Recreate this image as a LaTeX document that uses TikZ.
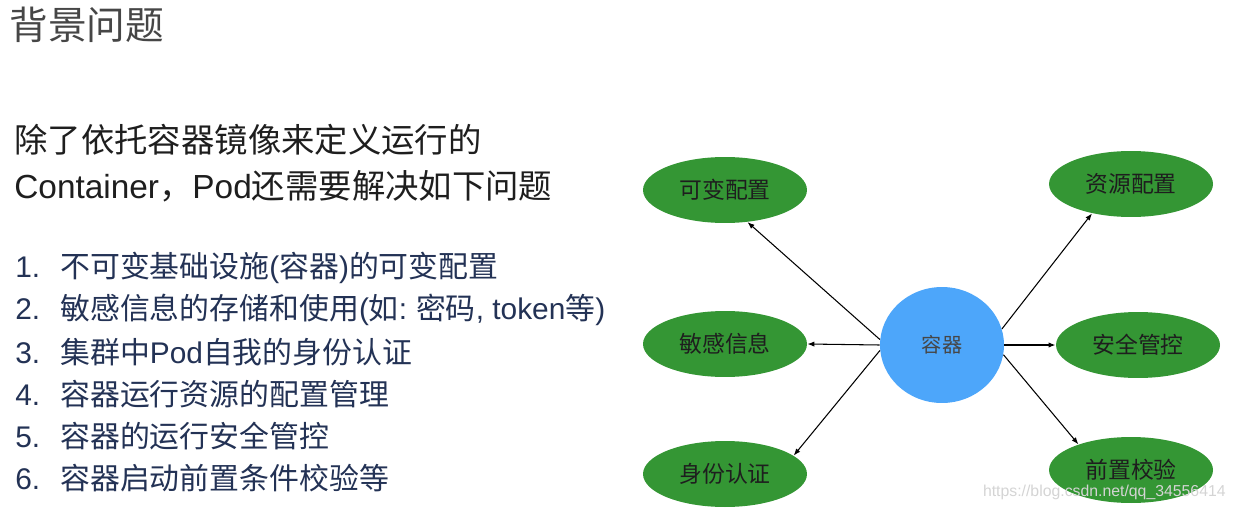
\documentclass[tikz,border=0pt]{standalone}
\usepackage{fontspec}
\setmainfont{Noto Sans CJK SC}
\newfontfamily\lat{Liberation Sans}
\usetikzlibrary{arrows.meta,shapes.geometric}
\definecolor{TitleClr}{RGB}{70,70,70}
\definecolor{TextClr}{RGB}{30,30,30}
\definecolor{ListClr}{RGB}{35,50,85}
\definecolor{LeafClr}{RGB}{52,150,52}
\definecolor{HubClr}{RGB}{77,166,250}
\definecolor{MarkClr}{RGB}{212,212,212}

\tikzset{
  leaf/.style={ellipse,fill=LeafClr,minimum width=3.28cm,minimum height=1.32cm,
    inner sep=0pt,text=TextClr,font=\fontsize{13pt}{15pt}\selectfont},
  hub/.style={ellipse,fill=HubClr,minimum width=2.48cm,minimum height=2.32cm,
    inner sep=0pt,text=TitleClr,font=\fontsize{11.5pt}{13pt}\selectfont},
  link/.style={-{Latex[length=4pt,width=3pt]},line width=0.6pt,color=black},
  line/.style={anchor=west,inner sep=0pt,text=ListClr,font=\fontsize{17pt}{20pt}\selectfont}
}

\begin{document}
\begin{tikzpicture}[x=0.02cm,y=-0.02cm]
\useasboundingbox (0,0) rectangle (1233,510);

% Heading and lead text.
\node[anchor=west,inner sep=0pt,text=TitleClr,font=\fontsize{22pt}{26pt}\selectfont] (title) at (9,25) {背景问题};
\node[anchor=west,inner sep=0pt,text=TextClr,font=\fontsize{19pt}{22pt}\selectfont] (lead1) at (14,140) {除了依托容器镜像来定义运行的};
\node[anchor=west,inner sep=0pt,text=TextClr,font=\fontsize{19pt}{22pt}\selectfont] (lead2) at (14,186) {{\lat Container}，{\lat Pod}还需要解决如下问题};

% Numbered list.
\node[line] (l1) at (15,268) {\makebox[0.9cm][l]{\lat 1.}不可变基础设施{\lat (}容器{\lat )}的可变配置};
\node[line] (l2) at (15,310) {\makebox[0.9cm][l]{\lat 2.}敏感信息的存储和使用{\lat (}如{\lat :} 密码{\lat , token}等{\lat )}};
\node[line] (l3) at (15,352) {\makebox[0.9cm][l]{\lat 3.}集群中{\lat Pod}自我的身份认证};
\node[line] (l4) at (15,394) {\makebox[0.9cm][l]{\lat 4.}容器运行资源的配置管理};
\node[line] (l5) at (15,436) {\makebox[0.9cm][l]{\lat 5.}容器的运行安全管控};
\node[line] (l6) at (15,478) {\makebox[0.9cm][l]{\lat 6.}容器启动前置条件校验等};

% Hub and leaves.
\node[hub] (rq) at (942,345) {容器};
\node[leaf] (kb) at (725,190) {可变配置};
\node[leaf] (mg) at (725,344) {敏感信息};
\node[leaf] (sf) at (725,474) {身份认证};
\node[leaf] (zy) at (1131,184) {资源配置};
\node[leaf] (aq) at (1138,345) {安全管控};
\node[leaf] (qz) at (1131,470) {前置校验};

\draw[link] (rq.175) -- (kb.-55);
\draw[link] (rq.180) -- (mg.east);
\draw[link] (rq.185) -- (sf.15);
\draw[link] (rq.15) -- (zy.-143);
\draw[link,line width=1.1pt] (rq.east) -- (aq.west);
\draw[link] (rq.-9) -- (qz.154);

\node[anchor=east,inner sep=0pt,text=MarkClr,font=\fontsize{9pt}{10pt}\selectfont\lat] (mark) at (1226,492) {https://blog.csdn.net/qq\_34556414};

\end{tikzpicture}
\end{document}
